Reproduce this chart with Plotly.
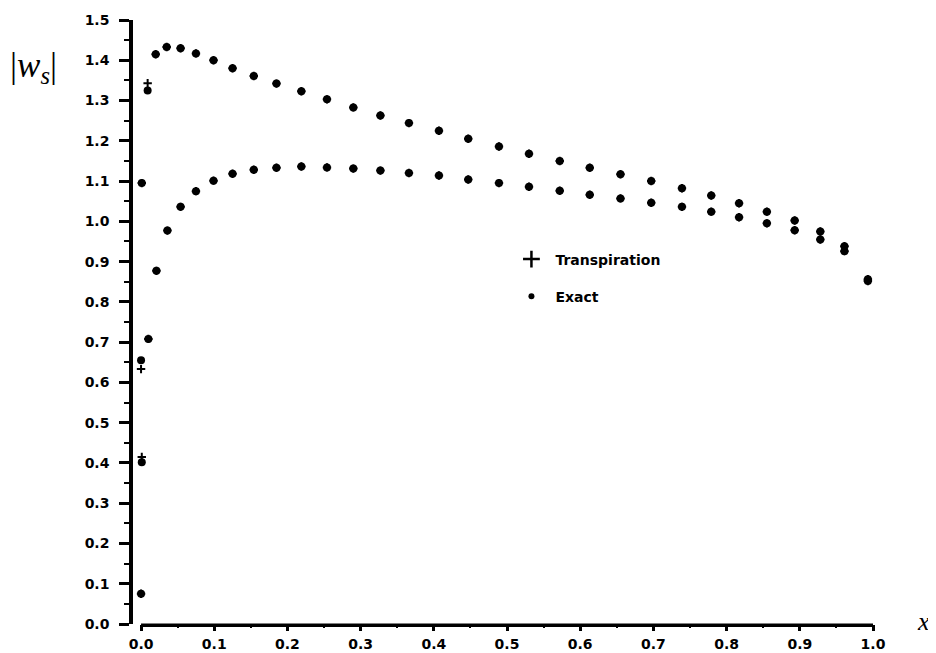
import plotly.graph_objects as go

# ---- data ----
x_upper = [0.0, 0.0, 0.001, 0.009, 0.020, 0.035, 0.054, 0.075, 0.099, 0.125, 0.154, 0.185,
           0.219, 0.254, 0.290, 0.327, 0.366, 0.407, 0.447, 0.489, 0.530, 0.572, 0.613,
           0.655, 0.697, 0.739, 0.779, 0.817, 0.855, 0.893, 0.928, 0.961, 0.993]
exact_upper = [0.075, 0.655, 1.095, 1.325, 1.415, 1.433, 1.430, 1.417, 1.400, 1.380, 1.361, 1.342,
               1.323, 1.303, 1.283, 1.263, 1.244, 1.225, 1.205, 1.186, 1.168, 1.150, 1.133,
               1.117, 1.100, 1.082, 1.064, 1.045, 1.024, 1.002, 0.975, 0.938, 0.856]
transp_upper = [0.075, 0.633, 1.095, 1.343, 1.415, 1.433, 1.430, 1.417, 1.400, 1.380, 1.361, 1.342,
                1.323, 1.303, 1.283, 1.263, 1.244, 1.225, 1.205, 1.186, 1.168, 1.150, 1.133,
                1.117, 1.100, 1.082, 1.064, 1.045, 1.024, 1.002, 0.975, 0.938, 0.856]

x_lower = [0.001, 0.010, 0.021, 0.036, 0.054, 0.075, 0.099, 0.125, 0.154, 0.185,
           0.219, 0.254, 0.290, 0.327, 0.366, 0.407, 0.447, 0.489, 0.530, 0.572, 0.613,
           0.655, 0.697, 0.739, 0.779, 0.817, 0.855, 0.893, 0.928, 0.961, 0.993]
exact_lower = [0.402, 0.708, 0.877, 0.977, 1.036, 1.075, 1.101, 1.118, 1.128, 1.133,
               1.136, 1.134, 1.131, 1.126, 1.120, 1.114, 1.104, 1.095, 1.086, 1.076, 1.066,
               1.057, 1.046, 1.036, 1.024, 1.010, 0.995, 0.978, 0.955, 0.926, 0.852]
transp_lower = [0.415, 0.708, 0.877, 0.977, 1.036, 1.075, 1.101, 1.118, 1.128, 1.133,
                1.136, 1.134, 1.131, 1.126, 1.120, 1.114, 1.104, 1.095, 1.086, 1.076, 1.066,
                1.057, 1.046, 1.036, 1.024, 1.010, 0.995, 0.978, 0.955, 0.926, 0.852]

x_ticks = [0.0, 0.1, 0.2, 0.3, 0.4, 0.5, 0.6, 0.7, 0.8, 0.9, 1.0]

fig = go.Figure()

# data marks (legend entries are drawn by empty legend-only traces below)
fig.add_trace(go.Scatter(
    x=x_upper + x_lower, y=transp_upper + transp_lower, mode="markers",
    name="Transpiration", showlegend=False,
    marker=dict(symbol="cross-thin", size=6, color="black", line=dict(width=2, color="black")),
))
fig.add_trace(go.Scatter(
    x=x_upper + x_lower, y=exact_upper + exact_lower, mode="markers",
    name="Exact", showlegend=False,
    marker=dict(symbol="circle", size=8, color="black"),
))
# legend entries
fig.add_trace(go.Scatter(
    x=[None], y=[None], mode="markers", name="Transpiration", legendgroup="t",
    marker=dict(symbol="cross-thin", size=12, color="black", line=dict(width=2.5, color="black")),
))
fig.add_trace(go.Scatter(
    x=[None], y=[None], mode="markers", name="Exact", legendgroup="e",
    marker=dict(symbol="circle", size=6, color="black"),
))

tickfont = dict(family="DejaVu Sans, sans-serif", size=14, color="black", weight="bold")

fig.update_layout(
    width=928, height=645,
    margin=dict(l=125, r=63, t=12, b=29),
    paper_bgcolor="white", plot_bgcolor="white",
    showlegend=True,
    legend=dict(x=0.506, y=0.630, xanchor="left", yanchor="top",
                font=dict(family="DejaVu Sans, sans-serif", size=14, color="black", weight="bold"),
                bgcolor="rgba(0,0,0,0)", tracegroupgap=16, traceorder="grouped", itemwidth=38),
    xaxis=dict(range=[-0.011, 1.0], showgrid=False, zeroline=False, showline=False, automargin=False,
               tickmode="array", tickvals=x_ticks, tickformat=".1f",
               ticks="outside", ticklen=6, tickwidth=2.5, tickcolor="black",
               tickfont=tickfont, ticklabelstandoff=1,
               minor=dict(dtick=0.05, tick0=0, ticks="outside", ticklen=3, tickwidth=2, tickcolor="black")),
    yaxis=dict(range=[0, 1.5], showgrid=False, zeroline=False, showline=True, linewidth=3.5, linecolor="black",
               automargin=False,
               dtick=0.1, tick0=0, tickformat=".1f",
               ticks="outside", ticklen=10, tickwidth=2.5, tickcolor="black",
               tickfont=tickfont, ticklabelstandoff=7,
               minor=dict(dtick=0.05, tick0=0, ticks="outside", ticklen=5, tickwidth=2, tickcolor="black")),
    shapes=[dict(type="line", xref="x", yref="paper", x0=0.0, x1=1.0, y0=-0.002, y1=-0.002,
                 line=dict(color="black", width=3.5))],
    annotations=[
        dict(text="|<i>w</i><sub><i>s</i></sub>|", xref="paper", yref="paper", x=-0.134, y=0.921,
             xanchor="center", yanchor="middle",
             showarrow=False, font=dict(family="Liberation Serif, DejaVu Serif, serif", size=35, color="black")),
        dict(text="<i>x</i>", xref="paper", yref="paper", x=1.068, y=0.004,
             xanchor="center", yanchor="middle",
             showarrow=False, font=dict(family="Liberation Serif, DejaVu Serif, serif", size=26, color="black")),
    ],
)

fig.write_html("out.html")
